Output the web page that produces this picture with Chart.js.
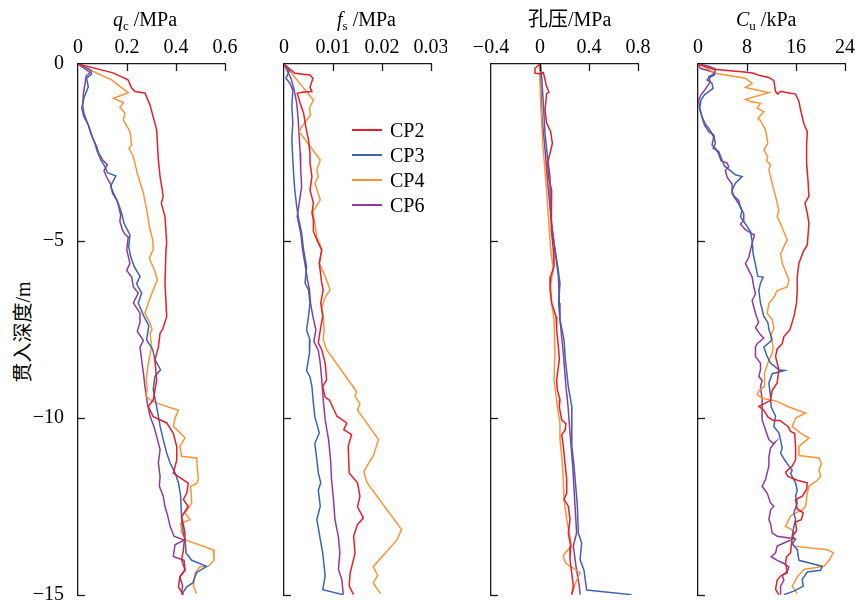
<!DOCTYPE html>
<html>
<head>
<meta charset="utf-8">
<script src="https://cdn.jsdelivr.net/npm/chart.js@4.4.1/dist/chart.umd.min.js"></script>
<style>
  html, body { margin: 0; padding: 0; background: #fff; overflow: hidden; }
  #wrap { position: relative; width: 858px; height: 605px; overflow: hidden;
          font-family: 'Liberation Serif', 'Noto Sans CJK SC', serif; color: #000; }
  canvas { position: absolute; top: 0; }
  .title { position: absolute; top: 9px; font-size: 20px; line-height: 20px; white-space: nowrap; }
  .title sub { font-size: 13px; vertical-align: -4px; line-height: 0; }
  #ytitle { position: absolute; left: 23px; top: 332px; font-size: 20px; line-height: 20px; white-space: nowrap;
            transform: translate(-50%, -50%) rotate(-90deg); }
  .lg-line { position: absolute; width: 30px; height: 2px; }
  .lg-text { position: absolute; font-size: 20px; line-height: 20px; }
</style>
</head>
<body>
<div id="wrap">
  <div id="ytitle">贯入深度/m</div>
</div>
<script>
// series: [depth (m), value]
const seriesNames = ['CP2', 'CP3', 'CP4', 'CP6'];
const seriesColors = ['#e3202a', '#3d63b3', '#fb9437', '#8e3c9c'];

const depthTicks = [0, -5, -10, -15];
const depthTickLabels = ['0', '−5', '−10', '−15'];

const qcTicks = [0, 0.2, 0.4, 0.6];
const qcTickLabels = ['0', '0.2', '0.4', '0.6'];
const fsTicks = [0, 0.01, 0.02, 0.03];
const fsTickLabels = ['0', '0.01', '0.02', '0.03'];
const poreTicks = [-0.4, 0, 0.4, 0.8];
const poreTickLabels = ['−0.4', '0', '0.4', '0.8'];
const cuTicks = [0, 8, 16, 24];
const cuTickLabels = ['0', '8', '16', '24'];

// qc / MPa
const qcCP2 = [[0,0],[0.25,0.143],[0.45,0.204],[0.68,0.219],[0.78,0.233],[0.82,0.273],[1.16,0.294],[1.86,0.321],[2.71,0.328],[3.18,0.335],[3.74,0.348],[3.93,0.34],[4.31,0.355],[5.05,0.362],[5.25,0.359],[6.2,0.355],[7.14,0.362],[7.5,0.345],[7.6,0.335],[7.99,0.328],[8.36,0.314],[8.93,0.321],[9.49,0.307],[9.68,0.287],[9.96,0.307],[10.14,0.362],[10.43,0.389],[10.81,0.403],[11.19,0.403],[11.56,0.389],[11.84,0.45],[12.12,0.444],[12.3,0.43],[12.5,0.45],[12.79,0.423],[13.25,0.437],[13.73,0.43],[14.0,0.423],[14.3,0.437],[14.48,0.416],[14.77,0.41],[15,0.43]];
const qcCP3 = [[0,0],[0.17,0.052],[0.28,0.056],[0.4,0.035],[0.64,0.042],[0.97,0.024],[1.25,0.015],[1.49,0.024],[1.72,0.042],[1.96,0.052],[2.24,0.069],[2.47,0.079],[2.71,0.093],[2.9,0.11],[3.07,0.12],[3.16,0.154],[3.46,0.133],[3.74,0.151],[3.95,0.165],[4.21,0.178],[4.5,0.188],[4.83,0.212],[5.16,0.207],[5.44,0.215],[5.72,0.229],[6.0,0.253],[6.21,0.239],[6.47,0.26],[6.75,0.246],[7.13,0.269],[7.39,0.289],[7.79,0.28],[8.07,0.305],[8.35,0.314],[8.64,0.337],[8.82,0.314],[9.2,0.307],[9.67,0.321],[10.23,0.335],[10.61,0.348],[10.99,0.362],[11.27,0.376],[11.55,0.396],[11.83,0.41],[12.21,0.419],[12.87,0.423],[13.25,0.43],[13.43,0.437],[13.81,0.441],[14.02,0.464],[14.19,0.525],[14.37,0.484],[14.66,0.468],[14.77,0.444],[14.99,0.423]];
const qcCP4 = [[0,0],[0.17,0.049],[0.45,0.137],[0.78,0.199],[0.81,0.205],[0.97,0.144],[1.09,0.185],[1.22,0.171],[1.39,0.192],[1.58,0.185],[1.91,0.212],[2.29,0.219],[2.38,0.208],[2.62,0.226],[3.09,0.242],[3.65,0.267],[4.21,0.283],[4.59,0.291],[4.97,0.305],[5.25,0.307],[5.48,0.291],[5.86,0.314],[6.1,0.324],[6.38,0.307],[6.75,0.287],[7.04,0.273],[7.32,0.294],[7.51,0.302],[7.6,0.294],[7.98,0.301],[8.45,0.287],[8.92,0.278],[9.2,0.283],[9.37,0.276],[9.48,0.294],[9.58,0.321],[9.78,0.41],[10.0,0.396],[10.23,0.389],[10.56,0.437],[10.8,0.416],[11.08,0.423],[11.13,0.484],[11.74,0.491],[11.85,0.484],[11.93,0.46],[12.4,0.464],[12.68,0.437],[12.87,0.457],[12.98,0.419],[13.25,0.423],[13.45,0.441],[13.72,0.552],[14.02,0.555],[14.19,0.532],[14.2,0.498],[14.39,0.478],[14.75,0.471],[14.96,0.484]];
const qcCP6 = [[0,0],[0.24,0.049],[0.34,0.033],[0.55,0.029],[0.83,0.022],[1.16,0.019],[1.39,0.024],[1.6,0.035],[1.86,0.049],[2.14,0.063],[2.33,0.076],[2.54,0.086],[2.71,0.101],[2.85,0.12],[3.01,0.106],[3.2,0.117],[3.39,0.133],[3.65,0.141],[3.84,0.158],[4.03,0.166],[4.26,0.174],[4.45,0.171],[4.68,0.181],[4.81,0.192],[4.89,0.205],[5.25,0.199],[5.63,0.212],[5.83,0.199],[6.02,0.219],[6.3,0.226],[6.47,0.246],[6.75,0.226],[7.04,0.253],[7.3,0.253],[7.55,0.242],[7.81,0.267],[8.0,0.253],[8.37,0.26],[8.73,0.267],[9.1,0.273],[9.58,0.283],[9.95,0.294],[10.24,0.31],[10.52,0.321],[10.89,0.335],[11.27,0.328],[11.65,0.335],[11.93,0.332],[12.21,0.348],[12.5,0.355],[12.73,0.365],[13.06,0.376],[13.34,0.392],[13.45,0.433],[13.58,0.396],[13.91,0.389],[14.02,0.433],[14.28,0.437],[14.49,0.416],[14.75,0.427],[14.96,0.423]];

// fs / MPa
const fsCP2 = [[0,0],[0.26,0.0022],[0.31,0.0053],[0.4,0.0059],[0.66,0.0053],[0.78,0.0057],[0.79,0.004],[0.83,0.0027],[1.11,0.0033],[1.39,0.004],[1.82,0.0045],[2.14,0.005],[2.52,0.0053],[2.8,0.0053],[3.18,0.0057],[3.56,0.0053],[3.93,0.006],[4.21,0.0057],[4.4,0.006],[4.73,0.006],[5.06,0.007],[5.25,0.0077],[5.63,0.0072],[6.19,0.0077],[6.38,0.008],[6.75,0.0075],[7.13,0.0079],[7.51,0.0074],[7.88,0.007],[8.07,0.0077],[8.45,0.0084],[8.92,0.0087],[9.11,0.0079],[9.41,0.0084],[9.5,0.0093],[9.95,0.0108],[10.14,0.0128],[10.33,0.0122],[10.47,0.0138],[10.8,0.0131],[11.55,0.0133],[11.83,0.015],[12.21,0.0155],[12.51,0.015],[12.82,0.0162],[13.01,0.015],[13.34,0.0142],[13.81,0.0145],[14.39,0.0135],[14.75,0.0133],[14.99,0.0142]];
const fsCP3 = [[0,0],[0.19,0.0011],[0.4,0.0004],[0.55,0.0012],[0.73,0.0018],[1.2,0.0016],[1.67,0.0018],[2.14,0.0016],[2.71,0.0018],[3.18,0.002],[3.56,0.0022],[4.03,0.0026],[4.31,0.0029],[4.78,0.0036],[5.25,0.004],[5.72,0.0046],[6.19,0.0043],[6.38,0.005],[6.75,0.0053],[7.13,0.005],[7.51,0.0046],[7.79,0.0053],[8.17,0.0052],[8.66,0.0046],[8.84,0.0053],[9.11,0.0057],[9.58,0.006],[9.97,0.0063],[10.42,0.0072],[10.72,0.0063],[11.18,0.0067],[11.55,0.007],[11.83,0.0075],[12.04,0.007],[12.49,0.0074],[12.87,0.0067],[13.1,0.007],[13.43,0.0074],[13.81,0.0079],[14.19,0.0082],[14.47,0.0084],[14.85,0.0079],[14.99,0.0121]];
const fsCP4 = [[0,0],[1.02,0.006],[1.25,0.0052],[1.44,0.0054],[1.82,0.0034],[1.91,0.0031],[2.71,0.0074],[2.99,0.0067],[3.18,0.007],[3.37,0.0063],[3.84,0.0074],[4.17,0.0059],[4.5,0.0063],[4.87,0.0067],[5.25,0.0077],[5.63,0.0072],[6.0,0.0084],[6.38,0.0094],[6.59,0.0084],[6.87,0.0077],[7.13,0.008],[7.51,0.0082],[7.79,0.008],[8.07,0.0087],[9.25,0.0148],[9.39,0.0145],[9.6,0.0155],[9.78,0.015],[10.61,0.0193],[10.82,0.0188],[11.08,0.0182],[11.2,0.0176],[11.51,0.0163],[11.82,0.0169],[13.15,0.024],[13.45,0.023],[14.2,0.0182],[14.45,0.0191],[14.66,0.0182],[14.96,0.0197]];
const fsCP6 = [[0,0],[0.4,0.0014],[0.69,0.002],[1.11,0.0026],[1.58,0.0029],[2.05,0.0031],[2.52,0.0033],[2.99,0.0034],[3.46,0.0036],[3.93,0.0031],[4.31,0.0027],[4.78,0.0034],[5.25,0.0038],[5.67,0.0043],[6.1,0.0048],[6.38,0.0052],[6.75,0.0054],[7.13,0.0059],[7.51,0.0065],[7.84,0.0061],[8.09,0.007],[8.45,0.0074],[8.92,0.0077],[9.48,0.008],[10.05,0.0084],[10.61,0.0091],[11.18,0.0095],[11.74,0.0097],[12.3,0.0101],[12.87,0.0104],[13.36,0.0111],[13.81,0.0114],[14.28,0.0111],[14.56,0.0118],[14.99,0.0121]];

// pore pressure / MPa
const poreCP2 = [[0,0],[0.12,-0.041],[0.26,-0.041],[0.28,0],[0.24,0.027],[0.43,0.041],[0.59,0.049],[0.8,0.073],[0.83,0.054],[1.3,0.041],[1.67,0.054],[1.91,0.087],[2.24,0.101],[2.52,0.082],[2.76,0.063],[3.18,0.068],[3.56,0.095],[4.03,0.09],[4.68,0.095],[5.25,0.109],[5.72,0.114],[6.0,0.087],[6.38,0.082],[6.75,0.095],[7.13,0.131],[7.51,0.136],[7.98,0.15],[8.35,0.158],[8.92,0.136],[9.2,0.141],[9.48,0.163],[9.69,0.158],[10.05,0.177],[10.16,0.212],[10.35,0.204],[10.47,0.177],[10.8,0.19],[11.27,0.204],[11.74,0.218],[12.12,0.218],[12.3,0.196],[12.49,0.231],[12.87,0.245],[13.25,0.231],[13.62,0.25],[14.0,0.245],[14.38,0.259],[14.75,0.272],[14.99,0.259]];
const poreCP3 = [[0,0],[0.36,0.014],[1.11,0.027],[1.96,0.041],[2.71,0.063],[3.18,0.082],[3.84,0.082],[4.5,0.093],[5.06,0.114],[5.63,0.141],[6.19,0.163],[6.75,0.152],[7.22,0.163],[7.79,0.196],[8.35,0.207],[9.11,0.231],[9.67,0.259],[10.23,0.259],[10.8,0.261],[11.36,0.278],[12.02,0.294],[12.49,0.305],[13.25,0.313],[13.53,0.34],[14.0,0.327],[14.3,0.359],[14.86,0.381],[14.99,0.748]];
const poreCP4 = [[0,-0.005],[1.02,0.005],[2.24,0.022],[3.37,0.049],[4.31,0.068],[5.25,0.087],[5.81,0.109],[6.19,0.087],[6.75,0.095],[7.22,0.114],[8.17,0.122],[8.92,0.114],[9.67,0.141],[10.14,0.163],[10.61,0.163],[11.18,0.18],[11.74,0.19],[12.3,0.196],[12.87,0.218],[13.25,0.239],[13.62,0.259],[13.81,0.204],[13.92,0.19],[14.11,0.212],[14.37,0.327],[14.7,0.286],[14.99,0.259]];
const poreCP6 = [[0,0],[0.55,0.005],[1.49,0.016],[2.43,0.041],[3.56,0.068],[4.5,0.095],[5.25,0.122],[6.0,0.15],[6.75,0.158],[7.22,0.163],[8.17,0.19],[9.11,0.212],[9.67,0.229],[10.42,0.245],[11.36,0.267],[12.49,0.286],[13.25,0.299],[13.62,0.272],[14.19,0.294],[14.75,0.321],[14.99,0.327]];

// Cu / kPa
const cuCP2 = [[0,0],[0.15,2.56],[0.23,8.02],[0.26,9.11],[0.32,9.93],[0.38,11.57],[0.47,12.38],[0.78,12.66],[0.85,13.04],[0.77,13.47],[0.81,14.68],[0.85,15.93],[1.06,16.48],[1.3,16.75],[1.69,17.29],[1.91,17.84],[2.33,17.73],[2.8,17.73],[3.27,17.95],[3.74,18.11],[3.93,17.46],[4.21,17.84],[4.5,18.11],[5.11,17.84],[5.3,17.18],[5.63,16.48],[6.0,16.2],[6.38,16.2],[6.75,16.09],[7.13,15.66],[7.51,15.0],[7.7,14.02],[7.9,13.75],[8.05,12.93],[8.26,12.66],[8.63,13.2],[9.01,12.93],[9.22,12.11],[9.5,11.84],[9.67,9.93],[9.78,10.75],[9.97,11.4],[10.07,12.28],[10.07,13.37],[10.24,14.68],[10.38,15.11],[10.43,15.77],[10.8,15.93],[11.18,15.93],[11.36,15.38],[11.53,14.29],[11.65,14.68],[11.76,16.2],[11.83,17.84],[12.02,17.73],[12.21,17.02],[12.31,15.93],[12.57,16.2],[12.68,17.18],[12.87,16.86],[12.94,15.93],[13.17,16.09],[13.36,15.38],[13.81,15.11],[13.92,14.46],[14.09,14.29],[14.37,14.57],[14.45,13.58],[14.58,12.93],[14.84,12.66],[14.99,13.2]];
const cuCP3 = [[0,0],[0.06,1.75],[0.14,2.84],[0.31,2.67],[0.38,1.91],[0.45,1.47],[0.55,2.29],[0.69,2.46],[0.78,1.75],[0.87,1.04],[1.02,0.49],[1.25,0.27],[1.49,0.65],[1.72,1.04],[1.91,1.75],[2.0,2.56],[2.24,2.84],[2.38,2.46],[2.47,3.38],[2.71,3.93],[2.88,4.31],[3.01,5.29],[3.13,6.11],[3.18,7.2],[3.37,6.11],[3.57,5.56],[3.74,5.84],[3.95,6.66],[4.14,7.2],[4.31,6.93],[4.52,7.75],[4.73,8.57],[5.01,8.84],[5.36,9.0],[5.67,9.38],[6.0,9.77],[6.02,10.64],[6.19,10.2],[6.4,9.93],[6.75,10.2],[7.13,10.75],[7.3,11.4],[7.51,11.6],[7.79,12.11],[8.0,10.75],[8.26,11.29],[8.45,11.84],[8.64,13.2],[8.66,14.13],[8.75,12.11],[9.01,11.57],[9.39,11.84],[9.69,11.95],[9.95,12.66],[10.24,12.38],[10.42,13.2],[10.71,13.58],[10.85,13.75],[10.99,13.48],[11.18,14.13],[11.36,14.84],[11.48,15.38],[11.57,15.11],[11.83,15.93],[12.04,16.2],[12.21,15.93],[12.4,16.2],[12.68,15.66],[12.87,15.93],[13.06,15.66],[13.34,15.38],[13.43,15.93],[13.55,15.38],[13.72,16.2],[14.02,16.48],[14.19,20.29],[14.3,20.02],[14.35,17.84],[14.56,17.02],[14.75,17.18],[14.89,15.66],[14.99,14.02]];
const cuCP4 = [[0,0],[0.12,1.47],[0.26,2.84],[0.4,7.75],[0.55,8.84],[0.66,7.75],[0.81,11.57],[1.0,7.75],[1.06,8.57],[1.11,10.2],[1.25,9.66],[1.35,10.75],[1.53,9.77],[1.6,10.2],[1.86,11.02],[2.24,11.4],[2.43,10.75],[2.62,11.4],[2.73,11.18],[2.85,11.84],[2.99,11.57],[3.37,12.11],[3.74,12.66],[4.14,13.2],[4.31,12.93],[4.52,13.48],[4.97,14.57],[5.16,14.02],[5.36,13.48],[5.63,13.75],[6.1,14.84],[6.3,14.57],[6.4,12.93],[6.59,12.38],[6.77,11.57],[7.04,11.29],[7.22,12.1],[7.45,12.4],[7.69,11.84],[7.98,12.28],[8.17,12.11],[8.45,11.4],[8.73,10.86],[9.11,10.86],[9.22,9.93],[9.34,9.66],[9.44,10.47],[9.48,11.57],[9.53,12.93],[9.69,14.84],[9.86,17.57],[10.0,15.93],[10.24,15.38],[10.44,16.86],[10.57,18.11],[10.8,16.48],[11.06,16.48],[11.13,19.75],[11.29,20.13],[11.46,19.75],[11.65,20.02],[11.76,19.48],[11.93,18.11],[12.12,17.84],[12.49,17.57],[12.6,17.02],[12.66,16.2],[12.77,15.11],[13.06,14.29],[13.13,15.11],[13.25,15.77],[13.43,15.11],[13.62,15.66],[13.72,21.11],[13.81,22.1],[14.02,21.39],[14.19,20.57],[14.28,17.29],[14.49,16.2],[14.75,15.38],[14.96,16.2]];
const cuCP6 = [[0,0],[0.12,0.38],[0.22,2.29],[0.28,2.67],[0.36,1.75],[0.5,2.02],[0.64,1.47],[0.75,1.04],[0.87,0.49],[1.02,0.11],[1.25,0.27],[1.49,0.65],[1.69,1.2],[1.88,2.02],[2.07,2.56],[2.29,2.29],[2.38,2.84],[2.54,3.38],[2.73,3.76],[2.8,4.75],[2.9,5.02],[3.01,4.47],[3.2,4.75],[3.39,5.56],[3.67,5.56],[3.86,6.66],[4.05,6.93],[4.23,7.47],[4.42,7.47],[4.52,6.93],[4.68,7.75],[4.83,9.22],[5.06,8.84],[5.25,8.57],[5.46,8.29],[5.64,7.75],[5.83,8.29],[6.02,8.84],[6.3,9.11],[6.49,9.38],[6.68,8.84],[7.04,9.38],[7.3,9.9],[7.45,9.4],[7.65,10.2],[7.74,10.75],[7.9,9.66],[8.0,9.38],[8.26,9.38],[8.45,10.2],[8.64,10.2],[8.82,9.93],[8.94,10.47],[9.12,10.2],[9.48,10.47],[10.05,10.47],[10.33,11.02],[10.61,11.57],[10.72,12.28],[10.67,12.66],[10.85,11.84],[11.1,11.57],[11.36,11.57],[11.55,11.29],[11.74,11.02],[11.93,10.47],[12.12,11.29],[12.4,11.84],[12.49,12.38],[12.6,11.84],[12.87,11.57],[12.98,11.84],[13.25,12.11],[13.34,12.93],[13.41,15.66],[13.53,14.02],[13.62,12.93],[13.81,12.66],[13.92,11.95],[14.02,12.93],[14.11,14.02],[14.21,14.84],[14.33,14.57],[14.45,13.75],[14.58,14.02],[14.75,13.48],[14.99,13.48]];

const panels = [
  { series: [qcCP2, qcCP3, qcCP4, qcCP6], ticks: qcTicks, labels: qcTickLabels, left: 78, depthLabels: true,
    title: '<i>q</i><sub>c</sub> /MPa', titleLeft: 113 },
  { series: [fsCP2, fsCP3, fsCP4, fsCP6], ticks: fsTicks, labels: fsTickLabels, left: 284, depthLabels: false,
    title: '<i>f</i><sub>s</sub> /MPa', titleLeft: 337 },
  { series: [poreCP2, poreCP3, poreCP4, poreCP6], ticks: poreTicks, labels: poreTickLabels, left: 491, depthLabels: false,
    title: '孔压/MPa', titleLeft: 528 },
  { series: [cuCP2, cuCP3, cuCP4, cuCP6], ticks: cuTicks, labels: cuTickLabels, left: 698, depthLabels: false,
    title: '<i>C</i><sub>u</sub> /kPa', titleLeft: 736 }
];

const AXIS_W = 78, PLOT_W = 147, PAD_R = 16, PAD_B = 10, TOP = 64, H = 605;
const axisColor = '#1a1a1a';
const tickFont = { family: "'Liberation Serif', 'Times New Roman', serif", size: 20 };
const wrap = document.getElementById('wrap');

// tick marks pointing into the plot
const inwardTicks = {
  id: 'inwardTicks',
  afterDraw(chart) {
    const { ctx, chartArea, scales: { x, y } } = chart;
    ctx.save();
    ctx.strokeStyle = axisColor;
    ctx.lineWidth = 1.3;
    x.ticks.forEach(t => {
      if (t.value === x.min) return;
      const px = Math.round(x.getPixelForValue(t.value)) + 0.5;
      ctx.beginPath();
      ctx.moveTo(px, chartArea.top);
      ctx.lineTo(px, chartArea.top + 7);
      ctx.stroke();
    });
    y.ticks.forEach(t => {
      if (t.value === y.max) return;
      const py = Math.round(y.getPixelForValue(t.value)) + 0.5;
      ctx.beginPath();
      ctx.moveTo(chartArea.left, py);
      ctx.lineTo(chartArea.left + 7, py);
      ctx.stroke();
    });
    ctx.restore();
  }
};

panels.forEach(p => {
  const canvas = document.createElement('canvas');
  canvas.width = AXIS_W + PLOT_W + PAD_R;
  canvas.height = H;
  canvas.style.left = (p.left - AXIS_W) + 'px';
  wrap.appendChild(canvas);

  const title = document.createElement('div');
  title.className = 'title';
  title.style.left = p.titleLeft + 'px';
  title.innerHTML = p.title;
  wrap.appendChild(title);

  new Chart(canvas, {
    type: 'scatter',
    data: {
      datasets: p.series.map((s, k) => ({
        label: seriesNames[k],
        data: s.map(([d, v]) => ({ x: v, y: -d })),
        showLine: true,
        borderColor: seriesColors[k],
        borderWidth: 1.5,
        pointRadius: 0,
        tension: 0,
        fill: false
      }))
    },
    options: {
      responsive: false,
      animation: false,
      events: [],
      layout: { padding: { left: 0, right: PAD_R, top: 0, bottom: PAD_B } },
      plugins: { legend: { display: false }, tooltip: { enabled: false } },
      scales: {
        x: {
          type: 'linear',
          position: 'top',
          min: p.ticks[0],
          max: p.ticks[p.ticks.length - 1],
          afterBuildTicks: s => { s.ticks = p.ticks.map(v => ({ value: v })); },
          afterFit: s => { s.height = TOP; s.paddingLeft = 0; s.paddingRight = 0; },
          ticks: {
            callback: v => p.labels[p.ticks.indexOf(v)],
            font: tickFont, color: '#000', padding: -4, maxRotation: 0, autoSkip: false
          },
          grid: { display: false },
          border: { display: true, color: axisColor, width: 1.3 }
        },
        y: {
          type: 'linear',
          min: -15,
          max: 0,
          afterBuildTicks: s => { s.ticks = depthTicks.map(v => ({ value: v })); },
          afterFit: s => { s.width = AXIS_W; s.paddingTop = 0; s.paddingBottom = 0; },
          ticks: {
            display: p.depthLabels,
            callback: v => depthTickLabels[depthTicks.indexOf(v)],
            font: tickFont, color: '#000', padding: 6, autoSkip: false
          },
          grid: { display: false },
          border: { display: true, color: axisColor, width: 1.3 }
        }
      }
    },
    plugins: [inwardTicks]
  });
});

// legend inside the fs panel
seriesNames.forEach((name, k) => {
  const cy = 130 + k * 25;
  const line = document.createElement('div');
  line.className = 'lg-line';
  line.style.left = '352px';
  line.style.top = (cy - 1) + 'px';
  line.style.background = seriesColors[k];
  wrap.appendChild(line);
  const txt = document.createElement('div');
  txt.className = 'lg-text';
  txt.style.left = '390px';
  txt.style.top = (cy - 10) + 'px';
  txt.textContent = name;
  wrap.appendChild(txt);
});
</script>
</body>
</html>
